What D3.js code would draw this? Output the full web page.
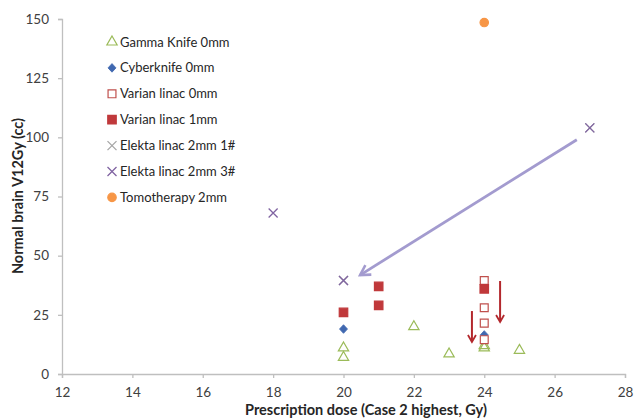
<!DOCTYPE html>
<meta charset="utf-8">
<style>
  body { margin: 0; background: #fff; }
  text { font-family: Lato, "Open Sans", sans-serif; }
</style>
<div id="my_dataviz"></div>
<script src="https://d3js.org/d3.v7.min.js"></script>
<script>

// data
var gammaKnife = [[20, 11], [20, 7], [22, 20], [23, 8.5], [24, 11], [24, 12], [25, 10]]
var cyberknife = [[20, 19], [24, 16.5]]
var varian0 = [[24, 39.5], [24, 28], [24, 21.5], [24, 14.5]]
var varian1 = [[20, 26], [21, 37], [21, 29], [24, 36]]
var elekta1 = [[20, 39.5], [27, 104]]
var elekta3 = [[18, 68], [20, 39.5], [27, 104]]
var tomo = [[24, 148.5]]

var seriesNames = ["Gamma Knife 0mm", "Cyberknife 0mm", "Varian linac 0mm", "Varian linac 1mm",
                   "Elekta linac 2mm 1#", "Elekta linac 2mm 3#", "Tomotherapy 2mm"]

var xTicks = [12, 14, 16, 18, 20, 22, 24, 26, 28]
var yTicks = [0, 25, 50, 75, 100, 125, 150]

// annotation arrows [x1, y1, x2, y2] in data units
var purpleArrow = [26.63, 99, 20.47, 41.8]
var redArrows = [[23.65, 26.6, 23.65, 13.5], [24.45, 39.3, 24.45, 22]]

var margin = {top: 19, right: 10, bottom: 46, left: 62},
    width = 635 - margin.left - margin.right,
    height = 420 - margin.top - margin.bottom;

var svg = d3.select("#my_dataviz")
  .append("svg")
    .attr("width", 635)
    .attr("height", 420)
  .append("g")
    .attr("transform", "translate(" + margin.left + "," + margin.top + ")");

var x = d3.scaleLinear().domain([12, 28]).range([0, 563])
var y = d3.scaleLinear().domain([0, 150]).range([height, 0])

// axes
var xAxis = svg.append("g")
  .attr("transform", "translate(0," + height + ")")
  .call(d3.axisBottom(x).tickValues(xTicks).tickSize(4).tickPadding(9))
var yAxis = svg.append("g")
  .call(d3.axisLeft(y).tickValues(yTicks).tickSize(4).tickPadding(9))

svg.selectAll(".domain, .tick line").attr("stroke", "#bfbfbf").attr("stroke-width", 1.3)
svg.selectAll(".tick text")
  .attr("fill", "#404040")
  .style("font-size", "13.5px")
  .style("font-family", "Lato, sans-serif")

// axis titles
svg.append("text")
  .attr("x", 304)
  .attr("y", height + 41)
  .attr("text-anchor", "middle")
  .style("font-size", "14.5px")
  .style("font-weight", "bold")
  .attr("fill", "#262626")
  .text("Prescription dose (Case 2 highest, Gy)")

svg.append("text")
  .attr("transform", "translate(-39," + (196 - margin.top) + ") rotate(-90)")
  .attr("text-anchor", "middle")
  .style("font-size", "14.5px")
  .style("font-weight", "bold")
  .attr("fill", "#262626")
  .text("Normal brain V12Gy (cc)")

// arrow heads
var defs = svg.append("defs")
function addHead(id, color) {
  defs.append("marker")
    .attr("id", id)
    .attr("viewBox", "0 0 10 10")
    .attr("refX", 8).attr("refY", 5)
    .attr("markerWidth", 5).attr("markerHeight", 5)
    .attr("orient", "auto")
    .append("path")
      .attr("d", "M1,1 L8,5 L1,9")
      .attr("fill", "none")
      .attr("stroke", color)
      .attr("stroke-width", 1.8)
}
addHead("headPurple", "#a39bcf")
addHead("headRed", "#b3282d")

svg.append("line")
  .attr("x1", x(purpleArrow[0])).attr("y1", y(purpleArrow[1]))
  .attr("x2", x(purpleArrow[2])).attr("y2", y(purpleArrow[3]))
  .attr("stroke", "#a39bcf").attr("stroke-width", 2.8)
  .attr("marker-end", "url(#headPurple)")

svg.selectAll(".redArrow")
  .data(redArrows)
  .enter()
  .append("line")
    .attr("x1", function(d) { return x(d[0]) })
    .attr("y1", function(d) { return y(d[1]) })
    .attr("x2", function(d) { return x(d[2]) })
    .attr("y2", function(d) { return y(d[3]) })
    .attr("stroke", "#b3282d").attr("stroke-width", 2)
    .attr("marker-end", "url(#headRed)")

// marker drawing
var styles = [
  {shape: d3.symbolTriangle, size: 46, fill: "none", stroke: "#9bbb59"},
  {shape: "diamond", size: 0, fill: "#4068b0", stroke: "#4068b0"},
  {shape: d3.symbolSquare, size: 62, fill: "#fff", stroke: "#c0504d"},
  {shape: d3.symbolSquare, size: 72, fill: "#c0393b", stroke: "#c0393b"},
  {shape: "x", size: 0, fill: "none", stroke: "#a6a6a6"},
  {shape: "x", size: 0, fill: "none", stroke: "#8064a2"},
  {shape: d3.symbolCircle, size: 56, fill: "#f79646", stroke: "#f79646"}
]
var allSeries = [gammaKnife, cyberknife, varian0, varian1, elekta1, elekta3, tomo]

function drawMarker(g, i, px, py) {
  var s = styles[i]
  if (s.shape == "x") {
    var r = 4.5
    g.append("path")
      .attr("d", "M" + (px - r) + "," + (py - r) + "L" + (px + r) + "," + (py + r) +
                 "M" + (px - r) + "," + (py + r) + "L" + (px + r) + "," + (py - r))
      .attr("stroke", s.stroke).attr("stroke-width", 1.3).attr("fill", "none")
    return
  }
  if (s.shape == "diamond") {
    g.append("path")
      .attr("d", "M0,-4.3L4,0L0,4.3L-4,0Z")
      .attr("transform", "translate(" + px + "," + py + ")")
      .attr("fill", s.fill).attr("stroke", s.stroke).attr("stroke-width", 0.8)
    return
  }
  g.append("path")
    .attr("d", d3.symbol().type(s.shape).size(s.size)())
    .attr("transform", "translate(" + px + "," + py + ")")
    .attr("fill", s.fill)
    .attr("stroke", s.stroke)
    .attr("stroke-width", 1.2)
}

var pts = svg.append("g")
allSeries.forEach(function(series, i) {
  series.forEach(function(d) { drawMarker(pts, i, x(d[0]), y(d[1])) })
})

// legend
var legend = svg.append("g").attr("transform", "translate(50,23)")
seriesNames.forEach(function(name, i) {
  var ly = i * 25.9
  drawMarker(legend, i, 0, ly)
  legend.append("text")
    .attr("x", 8).attr("y", ly)
    .attr("dy", "0.35em")
    .style("font-size", "13px")
    .attr("fill", "#262626")
    .text(name)
})

</script>
